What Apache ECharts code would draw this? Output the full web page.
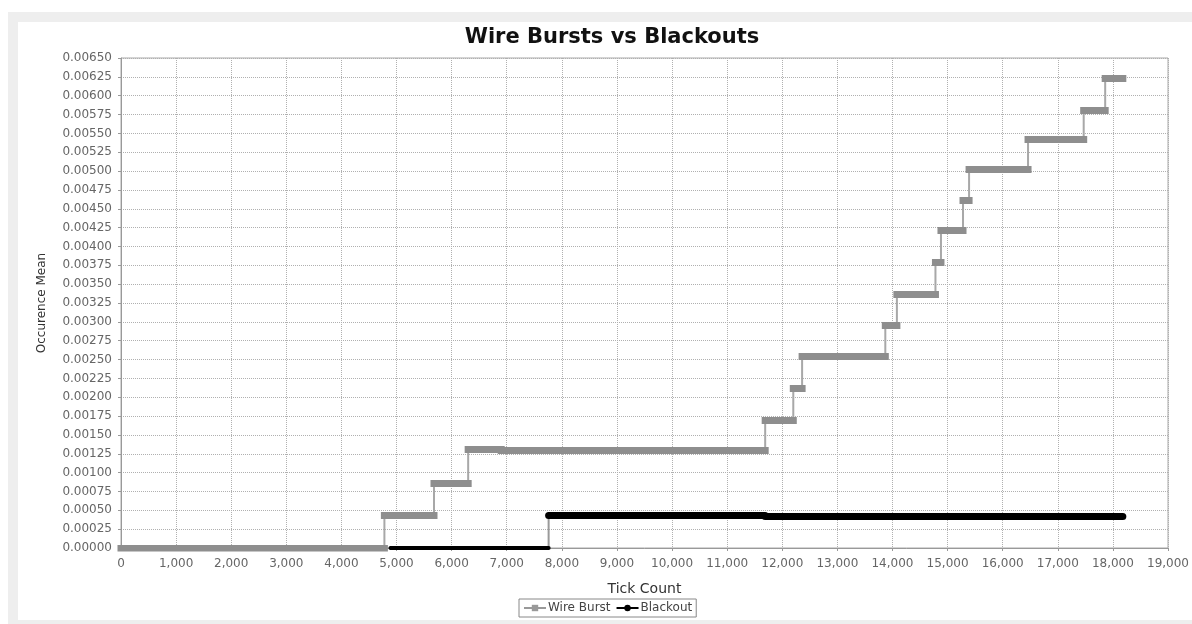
<!DOCTYPE html>
<html>
<head>
<meta charset="utf-8">
<script src="https://cdn.jsdelivr.net/npm/echarts@6/dist/echarts.min.js"></script>
<style>
  html, body { margin: 0; padding: 0; background: #ffffff; }
  #frame { position: absolute; left: 8px; top: 12px; width: 1184px; height: 612px; background: #eeeeee; }
  #panel { position: absolute; left: 18px; top: 22px; width: 1174px; height: 598px; background: #ffffff; }
  #chart { position: absolute; left: 0; top: 0; width: 1192px; height: 624px; }
</style>
</head>
<body>
<div id="frame"></div>
<div id="panel"></div>
<div id="chart"></div>
<script>
// ---- data ----
const chartTitle = 'Wire Bursts vs Blackouts';
const xAxisName = 'Tick Count';
const yAxisName = 'Occurence Mean';
const seriesNames = ['Wire Burst', 'Blackout'];

// Wire Burst: step segments (value holds from start to next start)
const wireStart = [0, 4780, 5680, 6300, 6900, 11690, 12200, 12360, 13870, 14080, 14780, 14880, 15280, 15390, 16460, 17470, 17860];
const wireValue = [0, 0.00044, 0.00086, 0.00131, 0.00130, 0.00170, 0.00212, 0.00254, 0.00295, 0.00336, 0.00379, 0.00421, 0.00461, 0.00503, 0.00542, 0.00581, 0.00623];
const wireEnd = 18180;

// Blackout: step segments
const blackStart = [4890, 7760, 11690];
const blackValue = [0, 0.00043, 0.00042];
const blackEnd = 18180;

// axis ranges / ticks
const xMin = 0, xMax = 19000, xStep = 1000;
const yMin = 0, yMax = 0.0065, yStep = 0.00025;

// ---- build series data ----
function stepPoints(starts, values, end) {
  const pts = starts.map((s, i) => [s, values[i]]);
  pts.push([end, values[values.length - 1]]);
  return pts;
}
function segments(starts, values, end) {
  return starts.map((s, i) => ({
    coords: [[s, values[i]], [i + 1 < starts.length ? starts[i + 1] : end, values[i]]]
  }));
}

const chart = echarts.init(document.getElementById('chart'), null, { renderer: 'canvas' });
const labelFont = 'DejaVu Sans';

chart.setOption({
  animation: false,
  backgroundColor: 'transparent',
  title: {
    text: chartTitle,
    left: 607,
    top: 22,
    textAlign: 'center',
    textStyle: { fontFamily: labelFont, fontWeight: 'bold', fontSize: 21, color: '#111' }
  },
  grid: {
    left: 121, right: 13, top: 58, bottom: 76,
    show: true, borderColor: '#a8a8a8', borderWidth: 1, backgroundColor: 'transparent'
  },
  legend: {
    data: [
      { name: seriesNames[0], itemStyle: { color: '#999' }, lineStyle: { color: '#999', width: 2 } },
      { name: seriesNames[1], itemStyle: { color: '#000' }, lineStyle: { color: '#000', width: 2 } }
    ],
    left: 519, top: 599,
    itemWidth: 22, itemHeight: 8, itemGap: 5,
    padding: [3, 4],
    borderColor: '#888', borderWidth: 1, borderRadius: 0,
    textStyle: { fontFamily: labelFont, fontSize: 12, color: '#444', padding: [0, 0, 0, -3] }
  },
  xAxis: {
    type: 'value',
    min: xMin, max: xMax, interval: xStep,
    offset: 5,
    name: xAxisName, nameLocation: 'middle', nameGap: 29,
    nameTextStyle: { fontFamily: labelFont, fontSize: 14, color: '#333' },
    axisLine: { show: true, lineStyle: { color: '#999' } },
    axisTick: { show: true, length: 3, lineStyle: { color: '#999' } },
    axisLabel: {
      fontFamily: labelFont, fontSize: 12, color: '#666', margin: 5,
      formatter: v => Number(v).toLocaleString('en-US')
    },
    splitLine: { show: true, lineStyle: { type: 'dotted', color: '#b0b0b0', width: 1 } }
  },
  yAxis: {
    type: 'value',
    min: yMin, max: yMax, interval: yStep,
    offset: 5,
    name: yAxisName, nameLocation: 'middle', nameGap: 68,
    nameTextStyle: { fontFamily: labelFont, fontSize: 12, color: '#333' },
    axisLine: { show: true, lineStyle: { color: '#999' } },
    axisTick: { show: true, length: 3, lineStyle: { color: '#999' } },
    axisLabel: {
      fontFamily: labelFont, fontSize: 12, color: '#666', margin: 4,
      formatter: v => Number(v).toFixed(5)
    },
    splitLine: { show: true, lineStyle: { type: 'dotted', color: '#b0b0b0', width: 1 } }
  },
  series: [
    {
      name: seriesNames[0], type: 'line', step: 'end',
      data: stepPoints(wireStart, wireValue, wireEnd),
      symbol: 'rect', symbolSize: 7, showSymbol: false,
      itemStyle: { color: '#999' },
      lineStyle: { color: '#a8a8a8', width: 2 },
      z: 2
    },
    {
      name: seriesNames[1], type: 'line', step: 'end',
      data: stepPoints(blackStart, blackValue, blackEnd),
      symbol: 'circle', symbolSize: 7, showSymbol: false,
      itemStyle: { color: '#000' },
      lineStyle: { color: '#9a9a9a', width: 2 },
      z: 2
    },
    {
      name: seriesNames[0], type: 'lines', coordinateSystem: 'cartesian2d',
      polyline: false, silent: true,
      data: segments(wireStart, wireValue, wireEnd),
      lineStyle: { color: '#8e8e8e', width: 7, opacity: 1, cap: 'square' },
      z: 3
    },
    {
      name: seriesNames[1], type: 'lines', coordinateSystem: 'cartesian2d',
      polyline: false, silent: true,
      data: segments(blackStart, blackValue, blackEnd).map((d, i) => i === 0
        ? Object.assign(d, { lineStyle: { width: 4 } }) : d),
      lineStyle: { color: '#000', width: 7, opacity: 1, cap: 'round' },
      z: 4
    }
  ]
});
</script>
</body>
</html>
